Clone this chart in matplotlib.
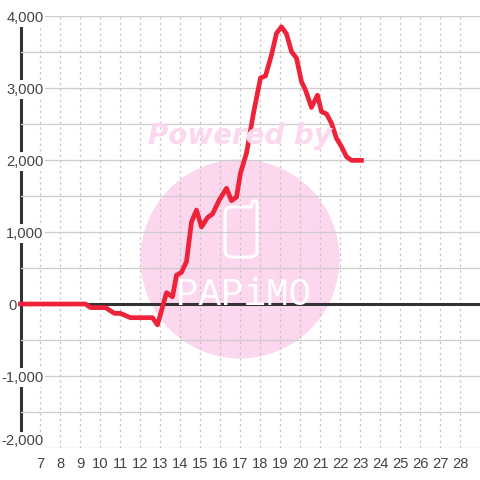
import matplotlib
matplotlib.use('Agg')
import matplotlib.pyplot as plt
from matplotlib.patches import Circle, PathPatch
from matplotlib.path import Path
from matplotlib.transforms import Affine2D, ScaledTranslation

hours = [6.0, 9.25, 9.5, 10.25, 10.7, 11.0, 11.5, 12.6, 12.85, 13.3, 13.6, 13.8, 14.05, 14.3, 14.55,
         14.8, 15.05, 15.35, 15.6, 15.95, 16.3, 16.55, 16.8, 17.0, 17.3, 17.65, 18.0, 18.25, 18.55,
         18.8, 19.05, 19.3, 19.55, 19.8, 20.05, 20.25, 20.55, 20.85, 21.05, 21.3, 21.55, 21.8, 22.05,
         22.3, 22.55, 23.05]
values = [0, 0, -50, -50, -130, -130, -190, -190, -290, 157, 100, 400, 440, 590, 1140,
          1305, 1070, 1200, 1250, 1450, 1607, 1435, 1485, 1820, 2095, 2650, 3140, 3167, 3460,
          3760, 3850, 3750, 3505, 3415, 3088, 2970, 2730, 2900, 2670, 2640, 2510, 2300, 2185,
          2045, 1995, 1995]
x_ticks = list(range(7, 29))
y_major = [-2000, -1000, 0, 1000, 2000, 3000, 4000]
y_minor = [-1500, -500, 500, 1500, 2500, 3500]
y_labels = ['-2,000', '-1,000', '0', '1,000', '2,000', '3,000', '4,000']

plt.rcParams['font.family'] = ['Liberation Sans', 'DejaVu Sans']
fig = plt.figure(figsize=(4.8, 4.8), dpi=100, facecolor='white')
ax = fig.add_axes([20.5 / 480, 32 / 480, 459.5 / 480, 432 / 480])
ax.patch.set_visible(False)
ax.set_xlim(6, 28.975)
ax.set_ylim(-2000, 4000)

# Watermark, placed in pixel coordinates with the origin at the top left
px = Affine2D().scale(1, -1).translate(0, 480)
PINK = '#fcd7ee'
fig.add_artist(Circle((240, 259), 99.5, fc=PINK, ec='none', transform=px, zorder=0))
fig.text(148, 144, 'Powered by', transform=px, family='DejaVu Sans', weight='bold', style='italic',
         fontsize=20, color=PINK, ha='left', va='baseline', zorder=0)
phone = Path([(232, 207), (251, 207), (251, 207), (253, 201), (256, 201), (256, 201), (257, 204),
              (257, 250), (257, 257), (250, 257), (232, 257), (225, 257), (225, 250), (225, 214),
              (225, 207), (232, 207), (232, 207)],
             [Path.MOVETO, Path.LINETO, Path.CURVE3, Path.CURVE3, Path.LINETO, Path.CURVE3, Path.CURVE3,
              Path.LINETO, Path.CURVE3, Path.CURVE3, Path.LINETO, Path.CURVE3, Path.CURVE3,
              Path.LINETO, Path.CURVE3, Path.CURVE3, Path.CLOSEPOLY])
fig.add_artist(PathPatch(phone, fc='none', ec='white', lw=2.2, transform=px, zorder=0))
fig.text(176, 305, 'PAPiMO', transform=px, family='Liberation Mono', fontsize=27, color='white',
         ha='left', va='baseline', zorder=0)

# Grid
ax.set_axisbelow(False)
ax.set_xticks(x_ticks)
ax.set_yticks(y_major)
ax.set_yticks(y_minor, minor=True)
ax.set_yticklabels(y_labels)
ax.grid(axis='y', which='both', color='#cccccc', lw=0.9)
ax.grid(axis='x', which='major', color='#c4c4c4', lw=0.9, linestyle=(0, (1.8, 2.6)))
ax.tick_params(axis='both', which='both', length=0)
ax.tick_params(axis='x', pad=6.5, labelsize=10.6, labelcolor='#444444')
ax.tick_params(axis='y', pad=-16.5, labelsize=10.6, labelcolor='#444444')
for lab, text in zip(ax.get_yticklabels(), y_labels):
    if text == '0':
        lab.set_transform(lab.get_transform() + ScaledTranslation(-27 / 100, 0, fig.dpi_scale_trans))
    else:
        lab.set_bbox(dict(fc='white', ec='none', pad=1.5))
    lab.set_zorder(3)
ax.get_yticklabels()[0].set_va('bottom')

for name in ('top', 'right', 'bottom'):
    ax.spines[name].set_visible(False)
ax.spines['left'].set_color('#333333')
ax.spines['left'].set_linewidth(2.2)

ax.axhline(0, color='#333333', lw=2.2, zorder=4, solid_capstyle='butt')
ax.plot(hours, values, color='#ee2238', lw=3.4, zorder=5, clip_on=False,
        solid_joinstyle='round', solid_capstyle='projecting')

fig.savefig('out.png', dpi=100)
